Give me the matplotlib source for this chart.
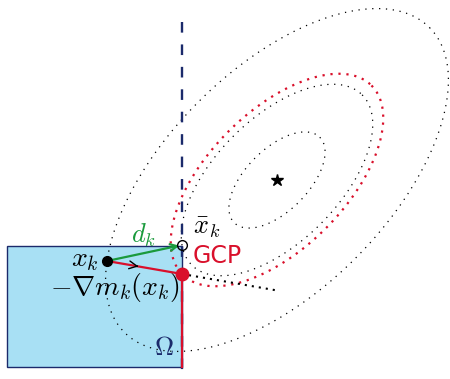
import numpy as np
import matplotlib
matplotlib.use("Agg")
import matplotlib.pyplot as plt
from matplotlib.patches import Rectangle

plt.rcParams['mathtext.fontset'] = 'cm'

# ---- data (diagram coordinates, y grows downward) ----
center = (277, 180)            # minimiser (star)
semi_axes = (216, 111)          # contour semi axes at level 1
tilt_deg = -45                  # major axis orientation
x_k = (107, 261)
x_bar = (182, 245)
gcp = (182, 274)
inner_level = 0.28
omega_box = (7, 246, 182, 367)  # x0, y0, x1, y1
bound_x = 182
bound_y = (22, 379)
ray_ext = 2.27                  # extension factor of -grad ray (dotted)

navy = '#1b2a6b'
red = '#d9102b'
green = '#1a9a3c'
fill = '#a8e0f4'

fig = plt.figure(figsize=(4.5, 3.79), dpi=100)
ax = fig.add_axes([0, 0, 1, 1])
ax.set_xlim(0, 450)
ax.set_ylim(379, 0)
ax.axis('off')

phi = np.deg2rad(tilt_deg)
a, b = semi_axes


def level(p):
    dx, dy = p[0] - center[0], p[1] - center[1]
    u = dx * np.cos(phi) + dy * np.sin(phi)
    v = -dx * np.sin(phi) + dy * np.cos(phi)
    return np.sqrt((u / a) ** 2 + (v / b) ** 2)


def ellipse(s):
    t = np.linspace(0, 2 * np.pi, 600)
    u = s * a * np.cos(t)
    v = s * b * np.sin(t)
    x = center[0] + u * np.cos(phi) - v * np.sin(phi)
    y = center[1] + u * np.sin(phi) + v * np.cos(phi)
    return x, y


# Omega box
x0, y0, x1, y1 = omega_box
ax.add_patch(Rectangle((x0, y0), x1 - x0, y1 - y0, facecolor=fill,
                       edgecolor=navy, lw=1.0, zorder=1))

# contours
for s in [inner_level, level(x_bar), level(x_k)]:
    ex, ey = ellipse(s)
    ax.plot(ex, ey, color='black', lw=0.9, linestyle=(0, (1, 4.5)), zorder=2)
ex, ey = ellipse(level(gcp))
ax.plot(ex, ey, color=red, lw=1.6, linestyle=(0, (1, 2.6)), zorder=3)

# bound line
ax.plot([bound_x, bound_x], bound_y, color=navy, lw=1.7,
        linestyle=(0, (4.5, 5)), zorder=2)

# dotted extension of -grad ray
ext = (x_k[0] + ray_ext * (gcp[0] - x_k[0]), x_k[1] + ray_ext * (gcp[1] - x_k[1]))
ax.plot([gcp[0], ext[0]], [gcp[1], ext[1]], color='black', lw=1.5,
        linestyle=(0, (1, 2.4)), zorder=3)

# projected path (red)
ax.plot([x_k[0], gcp[0], gcp[0]], [x_k[1], gcp[1], y1], color=red, lw=1.6,
        zorder=4, solid_joinstyle='miter')

# chevron on gradient ray
mid = (x_k[0] + 0.42 * (gcp[0] - x_k[0]), x_k[1] + 0.42 * (gcp[1] - x_k[1]))
pre = (x_k[0] + 0.40 * (gcp[0] - x_k[0]), x_k[1] + 0.40 * (gcp[1] - x_k[1]))
ax.annotate('', xy=mid, xytext=pre,
            arrowprops=dict(arrowstyle='->', color='black', lw=1.0,
                            mutation_scale=14, shrinkA=0, shrinkB=0), zorder=5)

# green step d_k
ax.annotate('', xy=x_bar, xytext=x_k,
            arrowprops=dict(arrowstyle='->', color=green, lw=1.6,
                            mutation_scale=12, shrinkA=0, shrinkB=2), zorder=5)

# points
ax.plot(*x_k, 'o', color='black', ms=7, zorder=6)
ax.plot(*gcp, 'o', color=red, ms=9, zorder=6)
ax.plot(*x_bar, 'o', mfc='none', mec='black', mew=1.0, ms=7, zorder=6)
ax.plot(*center, '*', color='black', ms=9, zorder=6)

# labels
ax.text(85, 259, r'$x_k$', fontsize=20, ha='center', va='center')
ax.text(180, 287, r'$-\nabla m_k(x_k)$', fontsize=20, ha='right', va='center')
ax.text(143, 235, r'$d_k$', fontsize=19, ha='center', va='center', color=green)
ax.text(207, 227, r'$\bar{x}_k$', fontsize=19, ha='center', va='center')
ax.text(193, 256, 'GCP', fontsize=17, ha='left', va='center', color=red)
ax.text(164, 348, r'$\Omega$', fontsize=19, ha='center', va='center', color=navy)

fig.savefig('out.png', dpi=100)
